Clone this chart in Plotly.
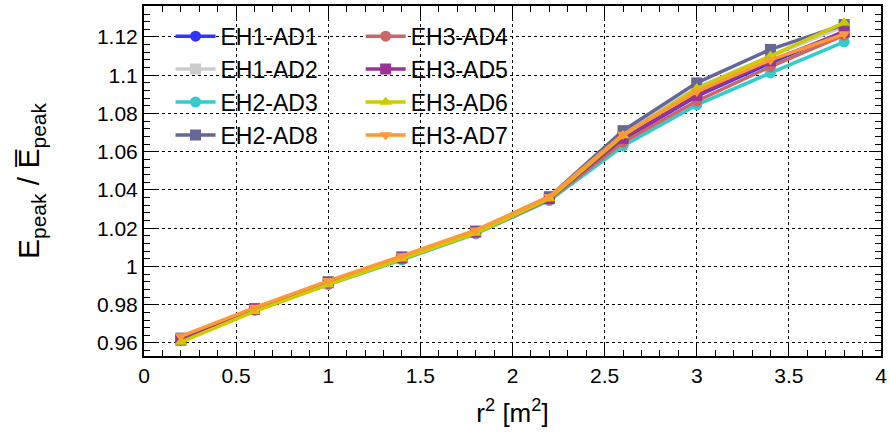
import plotly.graph_objects as go

r2 = [0.2, 0.6, 1.0, 1.4, 1.8, 2.2, 2.6, 3.0, 3.4, 3.8]

eh1_ad1 = [0.9620, 0.9775, 0.9915, 1.0045, 1.0180, 1.0355, 1.0665, 1.0890, 1.1065, 1.1230]
eh1_ad2 = [0.9625, 0.9780, 0.9920, 1.0050, 1.0185, 1.0360, 1.0690, 1.0935, 1.1100, 1.1255]
eh2_ad3 = [0.9615, 0.9770, 0.9905, 1.0035, 1.0170, 1.0345, 1.0630, 1.0845, 1.1012, 1.1175]
eh2_ad8 = [0.9625, 0.9780, 0.9920, 1.0050, 1.0185, 1.0365, 1.0710, 1.0960, 1.1135, 1.1265]
eh3_ad4 = [0.9620, 0.9775, 0.9910, 1.0040, 1.0175, 1.0350, 1.0650, 1.0865, 1.1045, 1.1210]
eh3_ad5 = [0.9615, 0.9775, 0.9915, 1.0045, 1.0180, 1.0355, 1.0670, 1.0895, 1.1075, 1.1225]
eh3_ad6 = [0.9605, 0.9765, 0.9905, 1.0040, 1.0175, 1.0355, 1.0685, 1.0930, 1.1100, 1.1275]
eh3_ad7 = [0.9635, 0.9785, 0.9925, 1.0055, 1.0190, 1.0365, 1.0690, 1.0915, 1.1080, 1.1215]

series = [
    ("EH1-AD1", eh1_ad1, "#3333ff", "circle", "legend"),
    ("EH1-AD2", eh1_ad2, "#cccccc", "square", "legend"),
    ("EH2-AD3", eh2_ad3, "#33cccc", "circle", "legend"),
    ("EH2-AD8", eh2_ad8, "#666699", "square", "legend"),
    ("EH3-AD4", eh3_ad4, "#cc6666", "circle", "legend2"),
    ("EH3-AD5", eh3_ad5, "#993399", "square", "legend2"),
    ("EH3-AD6", eh3_ad6, "#cccc00", "triangle-up", "legend2"),
    ("EH3-AD7", eh3_ad7, "#ff9933", "triangle-down", "legend2"),
]

fig = go.Figure()
for name, ys, col, sym, leg in series:
    fig.add_trace(go.Scatter(
        x=r2, y=ys, name=name, mode="lines+markers",
        line=dict(color=col, width=3.5),
        marker=dict(symbol=sym, size=11, color=col),
        legend=leg,
    ))

font = "Liberation Sans, Arial, Helvetica, sans-serif"
legfont = dict(family=font, size=23, color="black")

fig.update_layout(
    width=890, height=435,
    margin=dict(l=144, r=9, t=6, b=79, autoexpand=False),
    paper_bgcolor="white", plot_bgcolor="white",
    font=dict(family=font, color="black"),
    legend=dict(x=0.036, y=0.975, xanchor="left", yanchor="top",
                bgcolor="rgba(0,0,0,0)", font=legfont, itemwidth=40,
                tracegroupgap=0),
    legend2=dict(x=0.294, y=0.975, xanchor="left", yanchor="top",
                 bgcolor="rgba(0,0,0,0)", font=legfont, itemwidth=40,
                 tracegroupgap=0),
    xaxis=dict(
        range=[0, 4], dtick=0.5, tick0=0, automargin=False,
        showline=True, linecolor="black", linewidth=2, mirror="ticks",
        ticks="inside", ticklen=12, tickcolor="black",
        showgrid=True, gridcolor="black", griddash="dot", gridwidth=1,
        zeroline=False,
        tickfont=dict(size=21, family=font),
        minor=dict(dtick=0.1, ticks="inside", ticklen=6, tickcolor="black", showgrid=False),
        title=dict(text="r<sup>2</sup> [m<sup>2</sup>]", font=dict(size=26, family=font), standoff=18),
    ),
    yaxis=dict(
        range=[0.9532, 1.1362], dtick=0.02, tick0=0.96, automargin=False,
        showline=True, linecolor="black", linewidth=2, mirror="ticks",
        ticks="inside", ticklen=12, tickcolor="black",
        showgrid=True, gridcolor="black", griddash="dot", gridwidth=1,
        zeroline=False,
        tickfont=dict(size=21, family=font),
        minor=dict(dtick=0.004, ticks="inside", ticklen=6, tickcolor="black", showgrid=False),
        title=dict(text="E<sub>peak</sub> / E\u0305<sub>peak</sub>", font=dict(size=30, family=font), standoff=48),
    ),
)

fig.write_html("out.html", config={"displayModeBar": False},
               post_script="document.body.style.margin='0';")
